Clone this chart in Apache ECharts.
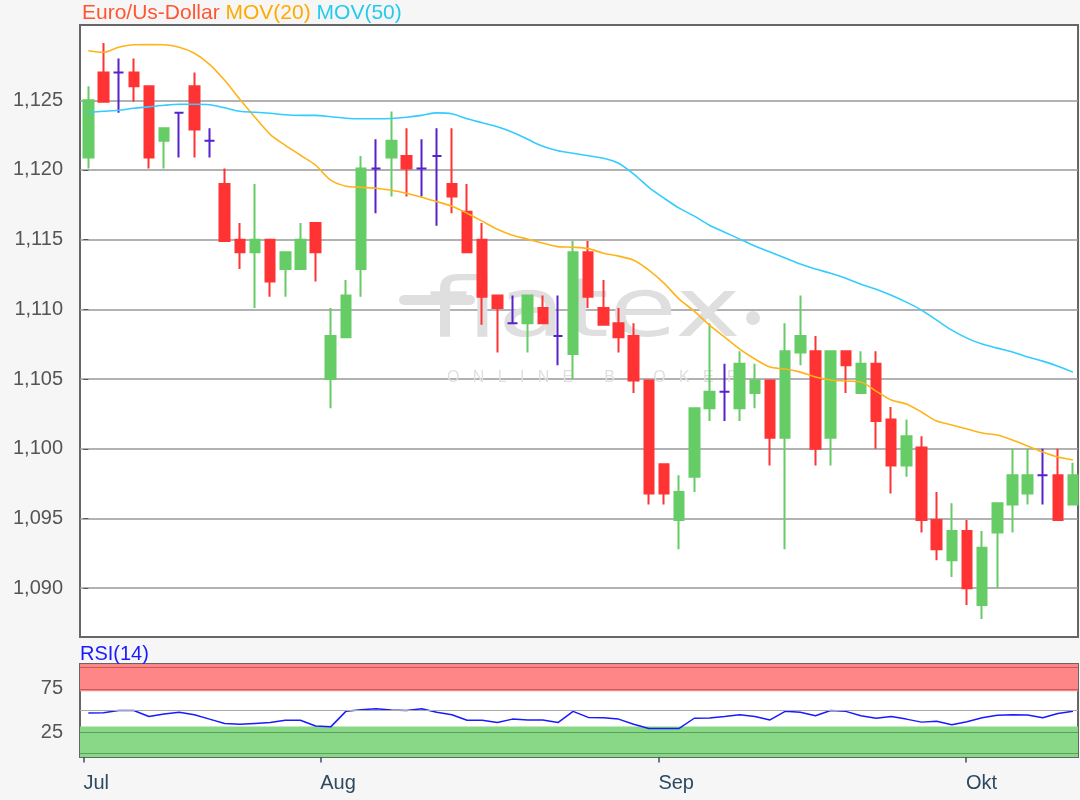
<!DOCTYPE html>
<html><head><meta charset="utf-8">
<script src="https://cdn.jsdelivr.net/npm/echarts@6/dist/echarts.min.js"></script>
<style>html,body{margin:0;padding:0;background:#f6f6f6}#chart{width:1080px;height:800px}</style>
</head><body><div id="chart"></div>
<script>
// ---- data ----
const openV = [1.1209,1.1270,1.1270,1.1270,1.1260,1.1221,1.1241,1.1260,1.1221,1.1190,
 1.1150,1.1141,1.1150,1.1129,1.1129,1.1162,1.1050,1.1080,1.1129,1.1201,
 1.1209,1.1210,1.1201,1.1210,1.1190,1.1170,1.1150,1.1110,1.1090,1.1090,
 1.1101,1.1081,1.1068,1.1141,1.1101,1.1090,1.1081,1.1049,1.0989,1.0949,
 1.0980,1.1029,1.1041,1.1029,1.1040,1.1049,1.1008,1.1069,1.1070,1.1008,
 1.1070,1.1040,1.1061,1.1021,1.0988,1.1001,1.0949,1.0920,1.0941,1.0888,
 1.0940,1.0960,1.0968,1.0981,1.0981,1.0960];
const closeV = [1.1250,1.1249,1.1270,1.1260,1.1209,1.1230,1.1241,1.1229,1.1221,1.1149,
 1.1141,1.1150,1.1120,1.1141,1.1150,1.1141,1.1081,1.1110,1.1201,1.1201,
 1.1221,1.1201,1.1201,1.1210,1.1181,1.1141,1.1109,1.1101,1.1090,1.1110,
 1.1090,1.1081,1.1141,1.1109,1.1089,1.1080,1.1049,1.0968,1.0968,1.0969,
 1.1029,1.1041,1.1041,1.1061,1.1049,1.1008,1.1070,1.1081,1.1000,1.1070,
 1.1060,1.1061,1.1020,1.0988,1.1009,1.0949,1.0928,1.0941,1.0900,1.0929,
 1.0961,1.0981,1.0981,1.0981,1.0949,1.0981];
const lowV = [1.1201,1.1249,1.1241,1.1249,1.1201,1.1201,1.1209,1.1209,1.1209,1.1149,
 1.1129,1.1101,1.1109,1.1109,1.1129,1.1120,1.1029,1.1080,1.1109,1.1169,
 1.1181,1.1181,1.1181,1.1160,1.1169,1.1141,1.1089,1.1069,1.1090,1.1069,
 1.1090,1.1060,1.1050,1.1101,1.1089,1.1069,1.1040,1.0960,1.0960,1.0928,
 1.0969,1.1020,1.1020,1.1020,1.1029,1.0988,1.0928,1.1060,1.0988,1.0988,
 1.1040,1.1040,1.1000,1.0968,1.0980,1.0940,1.0920,1.0908,1.0888,1.0878,
 1.0900,1.0940,1.0960,1.0960,1.0949,1.0960];
const highV = [1.1260,1.1291,1.1280,1.1280,1.1260,1.1230,1.1241,1.1270,1.1230,1.1201,
 1.1162,1.1190,1.1150,1.1141,1.1162,1.1162,1.1101,1.1121,1.1210,1.1222,
 1.1242,1.1230,1.1222,1.1230,1.1230,1.1190,1.1162,1.1110,1.1110,1.1110,
 1.1110,1.1110,1.1149,1.1149,1.1121,1.1101,1.1090,1.1049,1.0989,1.0981,
 1.1029,1.1090,1.1061,1.1070,1.1061,1.1049,1.1090,1.1110,1.1081,1.1070,
 1.1070,1.1070,1.1070,1.1030,1.1021,1.1009,1.0969,1.0961,1.0949,1.0941,
 1.0961,1.1000,1.1000,1.1000,1.1000,1.0990];
const mov20 = [1.12855,1.12844,1.12880,1.12898,1.12899,1.12898,1.12880,1.12837,1.12758,1.12643,
 1.12507,1.12378,1.12256,1.12177,1.12106,1.12034,1.11927,1.11884,1.11876,1.11869,
 1.11855,1.11833,1.11805,1.11773,1.11740,1.11690,1.11633,1.11575,1.11532,1.11504,
 1.11475,1.11450,1.11446,1.11436,1.11403,1.11382,1.11353,1.11282,1.11188,1.11074,
 1.10988,1.10887,1.10801,1.10715,1.10644,1.10586,1.10572,1.10550,1.10515,1.10493,
 1.10486,1.10479,1.10414,1.10350,1.10321,1.10264,1.10199,1.10171,1.10142,1.10113,
 1.10099,1.10063,1.10020,1.09977,1.09941,1.09920];
const mov50 = [1.12414,1.12421,1.12428,1.12443,1.12453,1.12464,1.12471,1.12471,1.12468,1.12446,
 1.12421,1.12414,1.12407,1.12396,1.12392,1.12392,1.12382,1.12371,1.12367,1.12367,
 1.12369,1.12378,1.12392,1.12410,1.12403,1.12367,1.12339,1.12310,1.12271,1.12220,
 1.12170,1.12138,1.12120,1.12102,1.12084,1.12048,1.11970,1.11876,1.11798,1.11726,
 1.11669,1.11604,1.11554,1.11504,1.11454,1.11411,1.11368,1.11325,1.11289,1.11260,
 1.11224,1.11181,1.11145,1.11102,1.11052,1.10995,1.10923,1.10851,1.10794,1.10751,
 1.10722,1.10694,1.10658,1.10629,1.10593,1.10550];
const rsi14 = [47,47.5,50,50,43,46,48,45,40,35,
 34,35,36,38.6,38.6,32,31,49,51,52,
 50.5,50,52,48,45,38.6,38.6,36,40,39,
 39,36,49,42,41.5,40,34,29.2,29.2,29.2,
 41,41.3,43,45,43,39,49,48,44,50,
 49,44,41,43,40,36.5,37.5,33.5,37,41.5,
 44.5,45,44.7,41.5,46.5,49];
const priceTicks = [1.090,1.095,1.100,1.105,1.110,1.115,1.120,1.125];
const rsiTicks = [25,75];
const monthTickPos = [-0.32, 15.31, 37.63, 57.93];
const monthLabels = ['Jul','Aug','Sep','Okt'];

// ---- styling ----
const UP = '#66cc66', DOWN = '#ff3333', DOJI = '#5522cc';
const X_MIN = -0.55, X_MAX = 65.33;
const FONT = 'Liberation Sans, Arial, sans-serif';
const WM = '#dfdfdf';

const candleData = openV.map((o, i) => {
  const item = { value: [i, o, closeV[i], lowV[i], highV[i]] };
  if (o === closeV[i]) {
    item.itemStyle = { color: DOJI, color0: DOJI, borderColor: DOJI, borderColor0: DOJI, borderColorDoji: DOJI };
  }
  return item;
});
const toXY = arr => arr.map((v, i) => [i, v]);

const chart = echarts.init(document.getElementById('chart'), null, { renderer: 'canvas' });
chart.setOption({
  backgroundColor: '#f6f6f6',
  animation: false,
  textStyle: { fontFamily: FONT },
  title: [
    { text: '{a|Euro/Us-Dollar} {b|MOV(20)} {c|MOV(50)}', left: 82, top: 3, padding: 0,
      textStyle: { fontSize: 21, fontWeight: 'normal', fontFamily: FONT,
        rich: { a: { color: '#ff5533', fontSize: 21, fontFamily: FONT },
                b: { color: '#ffaa00', fontSize: 21, fontFamily: FONT },
                c: { color: '#22ccee', fontSize: 21, fontFamily: FONT } } } },
    { text: 'RSI(14)', left: 80, top: 644, padding: 0,
      textStyle: { fontSize: 20, fontWeight: 'normal', color: '#1a1aff', fontFamily: FONT } }
  ],
  graphic: [
    { type: 'line', z: 1, silent: true, shape: { x1: 404, y1: 300, x2: 470, y2: 300 },
      style: { stroke: WM, lineWidth: 10, lineCap: 'round' } },
    { type: 'text', x: 428, y: 274, scaleX: 1.35, z: 1, silent: true,
      style: { text: 'flatex', fontSize: 82, fontFamily: 'DejaVu Sans', fill: WM } },
    { type: 'circle', z: 1, silent: true, shape: { cx: 753, cy: 318, r: 7 }, style: { fill: WM } },
    { type: 'text', x: 447, y: 370, z: 1, silent: true,
      style: { text: 'O   N   L   I   N   E       B   R   O   K   E   R', fontSize: 16, fontFamily: FONT, fill: WM } }
  ],
  grid: [
    { left: 80, right: 2, top: 25, height: 612, show: true, backgroundColor: '#ffffff', borderColor: '#666', borderWidth: 2 },
    { left: 80, right: 2, top: 664, height: 93, show: true, backgroundColor: '#ffffff', borderColor: '#666', borderWidth: 2 }
  ],
  xAxis: [
    { gridIndex: 0, type: 'value', min: X_MIN, max: X_MAX,
      axisLine: { show: false }, axisTick: { show: false }, axisLabel: { show: false }, splitLine: { show: false } },
    { gridIndex: 1, type: 'value', min: X_MIN, max: X_MAX,
      axisLine: { show: false },
      axisTick: { show: true, customValues: monthTickPos, length: 9, lineStyle: { color: '#3a5068', width: 1.5 } },
      axisLabel: { show: true, customValues: monthTickPos, align: 'left', margin: 16, fontSize: 20, color: '#2e4a60', fontFamily: FONT,
        formatter: v => { let k = 0; monthTickPos.forEach((p, j) => { if (Math.abs(p - v) < Math.abs(monthTickPos[k] - v)) k = j; }); return monthLabels[k]; } },
      splitLine: { show: false } }
  ],
  yAxis: [
    { gridIndex: 0, type: 'value', min: 1.0865, max: 1.1304, position: 'left',
      axisLine: { show: false },
      axisTick: { show: true, customValues: priceTicks, length: 5, lineStyle: { color: '#555' } },
      axisLabel: { customValues: priceTicks, margin: 17, fontSize: 20, color: '#555', fontFamily: FONT,
        formatter: v => v.toFixed(3).replace('.', ',') },
      splitLine: { show: true, lineStyle: { color: '#999', width: 1.5 } } },
    { gridIndex: 1, type: 'value', min: -4, max: 104, position: 'left',
      axisLine: { show: false },
      axisTick: { show: true, customValues: rsiTicks, length: 5, lineStyle: { color: '#555' } },
      axisLabel: { customValues: rsiTicks, margin: 17, fontSize: 20, color: '#555', fontFamily: FONT },
      splitLine: { show: false } }
  ],
  series: [
    { type: 'candlestick', name: 'Euro/Us-Dollar', xAxisIndex: 0, yAxisIndex: 0, barWidth: 10,
      encode: { x: 0, y: [1, 2, 3, 4] },
      itemStyle: { color: UP, color0: DOWN, borderColor: UP, borderColor0: DOWN, borderColorDoji: DOJI, borderWidth: 2 },
      data: candleData, z: 3 },
    { type: 'line', name: 'MOV(20)', xAxisIndex: 0, yAxisIndex: 0, data: toXY(mov20), showSymbol: false, smooth: 0.3,
      lineStyle: { color: '#ffb31a', width: 1.6 }, itemStyle: { color: '#ffb31a' }, z: 4 },
    { type: 'line', name: 'MOV(50)', xAxisIndex: 0, yAxisIndex: 0, data: toXY(mov50), showSymbol: false, smooth: 0.3,
      lineStyle: { color: '#33ccff', width: 1.6 }, itemStyle: { color: '#33ccff' }, z: 4 },
    { type: 'line', name: 'RSI(14)', xAxisIndex: 1, yAxisIndex: 1, data: toXY(rsi14), showSymbol: false,
      lineStyle: { color: '#1a1aff', width: 1.5 }, itemStyle: { color: '#1a1aff' }, z: 4,
      markArea: { silent: true, data: [
        [{ yAxis: 72.5, itemStyle: { color: '#ff8686' } }, { yAxis: 104 }],
        [{ yAxis: -4, itemStyle: { color: '#88d888' } }, { yAxis: 31.5 }]
      ] },
      markLine: { silent: true, symbol: 'none', label: { show: false }, data: [
        { yAxis: 100, lineStyle: { color: '#c85a5a', width: 1, type: 'solid' } },
        { yAxis: 75, lineStyle: { color: '#c85a5a', width: 1, type: 'solid' } },
        { yAxis: 50, lineStyle: { color: '#a8a8a8', width: 1, type: 'solid' } },
        { yAxis: 25, lineStyle: { color: '#5aa05a', width: 1, type: 'solid' } },
        { yAxis: 0, lineStyle: { color: '#5aa05a', width: 1, type: 'solid' } }
      ] } }
  ]
});
</script>
</body></html>
